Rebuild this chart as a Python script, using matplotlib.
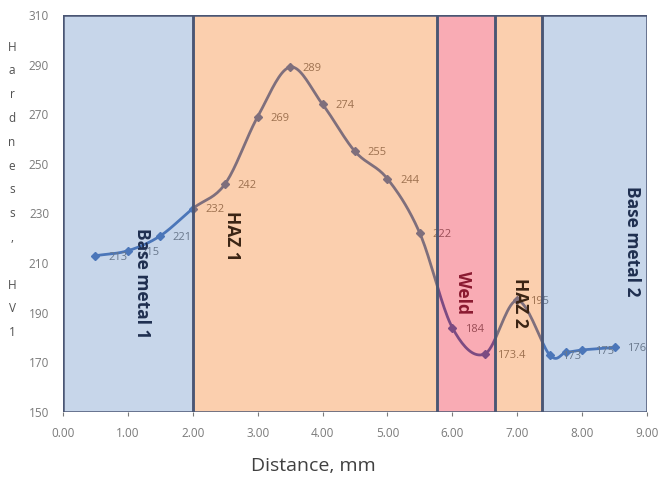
import numpy as np
import matplotlib
matplotlib.use("Agg")
import matplotlib.pyplot as plt
from matplotlib.patches import Rectangle

# ---- data ----
distance = [0.5, 1.0, 1.5, 2.0, 2.5, 3.0, 3.5, 4.0, 4.5, 5.0, 5.5, 6.0, 6.5, 7.0, 7.5, 7.75, 8.0, 8.5]
hardness = [213, 215, 221, 232, 242, 269, 289, 274, 255, 244, 222, 184, 173.4, 195, 173, 174, 175, 176]
point_labels = ["213", "215", "221", "232", "242", "269", "289", "274", "255", "244", "222",
                "184", "173.4", "195", "173", "", "175", "176"]

zone_names = ["Base metal 1", "HAZ 1", "Weld", "HAZ 2", "Base metal 2"]
zone_start = [0.0, 2.0, 5.76, 6.66, 7.38]
zone_end = [2.0, 5.76, 6.66, 7.38, 9.0]
zone_label_x = [1.22, 2.60, 6.16, 7.04, 8.77]
zone_label_y = [202, 221, 198, 194, 219]

x_ticks = [0, 1, 2, 3, 4, 5, 6, 7, 8, 9]
y_ticks = [150, 170, 190, 210, 230, 250, 270, 290, 310]

# ---- styles ----
zone_fill = ['#91afd7', '#f9a15f', '#f4596b', '#f9a15f', '#91afd7']
zone_text_color = ['#1f2f50', '#3a2414', '#8a1a30', '#3a2414', '#1f2f50']
line_color = '#053d9b'
label_color = '#404040'
edge_color = '#4a5674'


def catmull_rom(xs, ys, n=20):
    xs = np.asarray(xs, float)
    ys = np.asarray(ys, float)
    px = np.concatenate([[2 * xs[0] - xs[1]], xs, [2 * xs[-1] - xs[-2]]])
    py = np.concatenate([[2 * ys[0] - ys[1]], ys, [2 * ys[-1] - ys[-2]]])
    outx, outy = [], []
    t = np.linspace(0, 1, n, endpoint=False)
    for i in range(1, len(px) - 2):
        p0x, p1x, p2x, p3x = px[i - 1:i + 3]
        p0y, p1y, p2y, p3y = py[i - 1:i + 3]
        c1x = p1x + (p2x - p0x) / 6
        c1y = p1y + (p2y - p0y) / 6
        c2x = p2x - (p3x - p1x) / 6
        c2y = p2y - (p3y - p1y) / 6
        bx = (1 - t) ** 3 * p1x + 3 * (1 - t) ** 2 * t * c1x + 3 * (1 - t) * t ** 2 * c2x + t ** 3 * p2x
        by = (1 - t) ** 3 * p1y + 3 * (1 - t) ** 2 * t * c1y + 3 * (1 - t) * t ** 2 * c2y + t ** 3 * p2y
        outx.extend(bx)
        outy.extend(by)
    outx.append(xs[-1])
    outy.append(ys[-1])
    return np.array(outx), np.array(outy)


plt.rcParams['font.family'] = ['Open Sans', 'DejaVu Sans']

fig = plt.figure(figsize=(6.62, 4.80), dpi=100)
ax = fig.add_axes([63 / 662, 1 - 412 / 480, (647 - 63) / 662, (412 - 15) / 480])

sx, sy = catmull_rom(distance, hardness)
ax.plot(sx, sy, color=line_color, lw=2.0, zorder=1, solid_capstyle='round')
ax.plot(distance, hardness, linestyle='none', marker='D', markersize=4.5,
        color=line_color, zorder=1)
for xv, yv, lab in zip(distance, hardness, point_labels):
    if lab:
        ax.annotate(lab, (xv, yv), xytext=(9, -1), textcoords='offset points',
                    ha='left', va='center', fontsize=8, color=label_color, zorder=1)

# translucent zone overlays
for s, e, c in zip(zone_start, zone_end, zone_fill):
    ax.add_patch(Rectangle((s, 150), e - s, 160, facecolor=c, alpha=0.5,
                           edgecolor='none', zorder=2))
    ax.add_patch(Rectangle((s, 150), e - s, 160, facecolor='none',
                           edgecolor=edge_color, lw=1.8, zorder=3))

for name, xv, yv, tc in zip(zone_names, zone_label_x, zone_label_y, zone_text_color):
    ax.text(xv, yv, name, rotation=-90, ha='center', va='center', fontsize=12.5,
            fontweight='bold', color=tc, zorder=4)

ax.set_xlim(0, 9)
ax.set_ylim(150, 310)
ax.set_xticks(x_ticks)
ax.set_xticklabels([f"{v:.2f}" for v in x_ticks])
ax.set_yticks(y_ticks)
ax.set_yticklabels([str(v) for v in y_ticks])
ax.tick_params(axis='both', labelsize=8.5, colors='#7a7a7a', length=3, width=0.8)
ax.tick_params(axis='x', pad=8)
ax.tick_params(axis='y', pad=10, length=0)
for sp in ax.spines.values():
    sp.set_visible(False)

fig.text(313 / 662, 1 - 466 / 480, "Distance, mm", ha='center', va='center',
         fontsize=14, color='#404040')

fig.text(12 / 662, 1 - 190 / 480, "\n".join(list("Hardness, HV1")), ha='center', va='center',
         fontsize=8.5, color='#505050', linespacing=2.08)

fig.savefig("out.png", dpi=100, facecolor='white')
